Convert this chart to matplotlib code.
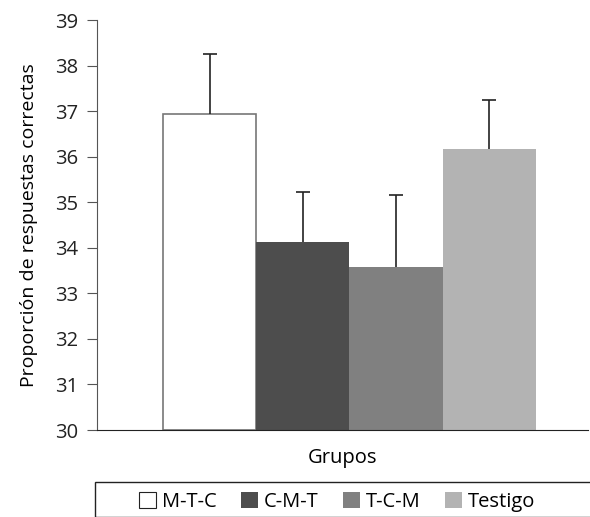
import matplotlib.pyplot as plt
import matplotlib.patches as patches

grupos = ["M-T-C", "C-M-T", "T-C-M", "Testigo"]
medias = [36.94, 34.12, 33.57, 36.17]
errores = [1.32, 1.11, 1.58, 1.08]
colores = ["white", "#4d4d4d", "#808080", "#b3b3b3"]

plt.rcParams['font.family'] = ['Open Sans', 'DejaVu Sans']
fs = 14.5

fig = plt.figure(figsize=(5.9, 5.17), dpi=100)
ax = fig.add_axes([97 / 590, 1 - 430 / 517, 491 / 590, 410 / 517])

x = range(len(grupos))
bars = ax.bar(x, [m - 30 for m in medias], bottom=30, width=1.0, color=colores,
              label=grupos, zorder=2)
bars[0].set_edgecolor("#777777")
bars[0].set_linewidth(1.2)
eb = ax.errorbar(x, medias, yerr=[[0] * 4, errores], fmt="none", ecolor="#222222",
                 elinewidth=1.2, capsize=5, capthick=1.2, zorder=3)
# solo barra hacia arriba: ocultar el cap inferior
eb[1][0].set_visible(False)

ax.set_xlim(-1.21, 4.06)
ax.set_ylim(30, 39)
ax.set_yticks(range(30, 40))
ax.set_xticks([])
ax.spines["top"].set_visible(False)
ax.spines["right"].set_visible(False)
ax.spines["left"].set_color("#555555")
ax.spines["bottom"].set_color("#222222")
ax.tick_params(axis="y", length=7.5, pad=6, color="#555555", labelsize=fs,
               labelcolor="#222222")
ax.set_ylabel("Proporción de respuestas correctas", fontsize=14, labelpad=12)
ax.set_xlabel("Grupos", fontsize=fs, labelpad=13)

rect = patches.Rectangle((95 / 590, 0), 1, 1 - 482 / 517, transform=fig.transFigure,
                         fill=False, edgecolor="#222222", linewidth=1, clip_on=False)
fig.patches.append(rect)

leg = fig.legend(handles=bars, labels=grupos, loc="center", ncol=4,
                 bbox_to_anchor=(337 / 590, 1 - 502 / 517), frameon=False,
                 fontsize=fs, handlelength=0.85, handleheight=0.85,
                 handletextpad=0.3, columnspacing=1.2)
leg.legend_handles[0].set_edgecolor("#222222")
leg.legend_handles[0].set_linewidth(0.8)

fig.savefig("out.png", dpi=100)
